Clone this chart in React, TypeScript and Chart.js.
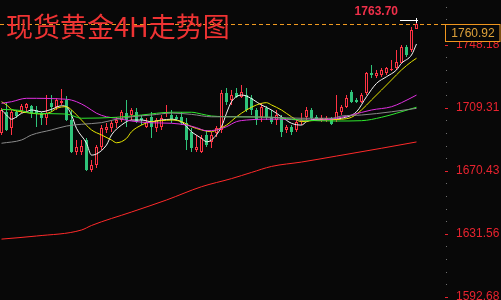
import React, { useEffect, useRef } from "react";
import { Chart, registerables } from "chart.js";

Chart.register(...registerables);

const titleText = "现货黄金4H走势图";
const yTickLabels = ["1592.68", "1631.56", "1670.43", "1709.31", "1748.18"];
const lastPrice = 1760.92;
const highPrice = 1763.7;
const highLabel = "1763.70";
const lastLabel = "1760.92";

const opens = [1693.7,1706.7,1696.8,1706.7,1707.3,1709.1,1710.4,1707.9,1706.0,1703.0,
1712.2,1709.7,1712.2,1714.1,1701.7,1682.0,1682.0,1689.4,1670.9,1674.0,
1685.1,1695.6,1696.8,1699.9,1701.7,1706.0,1704.8,1706.7,1703.0,1697.4,
1703.6,1696.8,1697.4,1706.0,1704.8,1703.6,1703.6,1699.9,1694.3,1683.2,
1682.0,1692.5,1688.2,1693.7,1695.6,1718.4,1714.1,1718.4,1715.9,1717.1,
1715.3,1707.9,1703.6,1709.1,1703.0,1701.7,1703.6,1695.6,1697.4,1695.6,
1700.5,1703.6,1707.9,1703.6,1701.7,1701.7,1703.0,1701.7,1706.7,1709.7,
1719.0,1714.1,1712.8,1718.4,1730.7,1728.9,1729.5,1730.7,1732.6,1733.8,
1736.9,1746.7,1744.9,1757.8];

const highs = [1709.1,1712.8,1707.9,1707.9,1711.6,1712.2,1711.0,1710.4,1706.7,1717.1,
1717.1,1715.3,1720.8,1716.5,1707.9,1689.4,1689.4,1690.6,1677.1,1686.3,
1698.6,1699.9,1701.1,1703.6,1707.9,1714.1,1709.1,1709.1,1704.8,1703.0,
1706.7,1703.0,1704.8,1711.0,1707.9,1704.8,1706.7,1703.0,1696.8,1692.5,
1692.5,1695.6,1694.3,1698.0,1720.2,1721.5,1720.2,1721.5,1723.3,1721.5,
1717.1,1709.1,1712.2,1710.4,1707.9,1707.9,1704.8,1698.6,1698.6,1701.7,
1706.0,1709.7,1709.1,1704.8,1704.8,1704.2,1703.6,1717.1,1711.0,1717.1,
1720.2,1715.3,1718.4,1731.3,1735.6,1732.6,1733.8,1734.4,1738.7,1744.9,
1748.0,1748.0,1759.1,1763.7];

const lows = [1692.5,1694.9,1692.5,1703.0,1706.0,1706.7,1703.0,1697.4,1698.6,1698.6,
1706.7,1707.9,1711.0,1701.1,1681.4,1680.2,1680.2,1670.3,1669.7,1672.1,
1683.2,1693.7,1694.3,1696.8,1700.5,1697.4,1701.7,1699.9,1698.6,1696.8,
1690.6,1694.3,1695.6,1703.6,1699.9,1701.1,1698.6,1683.2,1682.0,1682.0,
1681.4,1685.1,1684.5,1691.2,1693.7,1711.0,1711.0,1715.3,1715.3,1706.7,
1704.8,1698.6,1700.5,1701.7,1699.3,1698.6,1691.2,1693.7,1692.5,1694.3,
1698.6,1701.7,1701.7,1701.1,1700.5,1700.5,1698.6,1700.5,1704.8,1709.1,
1712.2,1712.2,1712.2,1717.1,1727.6,1727.6,1728.2,1729.5,1731.9,1732.6,
1736.9,1740.6,1743.6,1757.8];

const closes = [1707.9,1695.6,1706.7,1704.2,1710.4,1711.6,1706.0,1706.0,1703.0,1706.0,
1709.7,1714.1,1713.4,1701.7,1682.0,1685.1,1685.7,1670.9,1674.0,1685.1,
1696.8,1697.4,1699.9,1701.7,1706.7,1701.7,1707.9,1700.5,1701.7,1700.5,
1697.4,1701.7,1703.0,1706.7,1702.3,1702.3,1699.9,1689.4,1684.5,1685.1,
1690.6,1686.3,1692.5,1696.8,1718.4,1712.8,1717.1,1715.9,1719.0,1707.9,
1707.9,1701.7,1709.7,1703.6,1700.5,1704.8,1694.3,1697.4,1694.3,1700.5,
1701.7,1707.9,1703.0,1702.3,1703.0,1703.0,1699.3,1706.7,1709.7,1715.3,
1712.8,1712.8,1717.1,1730.7,1729.5,1730.7,1732.6,1733.8,1733.2,1737.5,
1746.7,1741.8,1757.2,1760.92];

// moving average lines: [candle index, value]
const maWhite = [[0,1707.9],[1,1704.8],[2,1702.2],[3,1703.7],[4,1705.9],[5,1706.8],[6,1707.9],[8,1706.8],[10,1708.3],[12,1710.5],[13,1709.9],[14,1704.8],[15,1696.6],[17,1687.4],[18,1680.1],[19,1680.8],[21,1686.3],[22,1692.5],[24,1698.6],[26,1701.7],[28,1701.7],[30,1700.7],[32,1701.7],[34,1702.2],[36,1700.5],[38,1694.5],[40,1690.4],[41,1688.3],[42,1689.4],[44,1697.6],[45,1705.9],[46,1713.0],[48,1717.1],[49,1716.5],[52,1711.0],[54,1707.9],[56,1703.7],[58,1699.7],[60,1698.6],[61,1700.7],[63,1702.2],[66,1702.2],[68,1702.8],[71,1706.8],[73,1716.1],[75,1724.3],[77,1728.4],[79,1732.6],[80,1736.7],[82,1741.8],[83,1748.6]];
const maYellow = [[0,1713.0],[1,1711.0],[2,1708.3],[4,1706.8],[6,1705.9],[8,1705.4],[10,1706.8],[11,1708.9],[13,1709.9],[14,1707.9],[16,1701.7],[18,1695.6],[20,1692.5],[22,1689.4],[23,1687.7],[25,1690.4],[26,1694.5],[28,1698.6],[30,1700.7],[32,1701.3],[34,1701.7],[36,1700.7],[38,1697.6],[40,1695.6],[42,1694.5],[43,1695.6],[45,1698.6],[47,1703.7],[49,1707.9],[51,1711.0],[53,1712.4],[54,1711.0],[56,1707.9],[58,1703.7],[60,1700.7],[62,1701.3],[64,1701.7],[68,1702.2],[70,1703.4],[72,1707.9],[74,1714.1],[76,1720.2],[78,1726.4],[80,1732.6],[82,1737.7],[83,1739.8]];
const maMagenta = [[0,1712.0],[2,1713.0],[5,1715.1],[13,1714.5],[15,1713.0],[17,1709.9],[19,1705.9],[21,1703.7],[23,1702.8],[26,1701.1],[30,1700.0],[34,1699.7],[37,1698.6],[39,1697.0],[41,1695.1],[43,1695.6],[45,1697.6],[47,1700.7],[49,1701.7],[52,1702.2],[56,1702.3],[60,1701.7],[64,1701.7],[68,1703.4],[70,1704.8],[74,1707.9],[78,1709.9],[80,1712.4],[83,1717.1]];
const maGreen = [[0,1708.3],[4,1707.5],[6,1705.9],[13,1705.4],[16,1702.8],[23,1703.4],[28,1704.8],[34,1706.5],[38,1706.5],[40,1705.4],[42,1704.2],[47,1703.7],[54,1703.4],[60,1701.7],[67,1701.1],[72,1701.3],[76,1703.4],[79,1705.9],[83,1709.6]];
const maGray = [[0,1687.4],[4,1689.4],[6,1692.5],[10,1695.6],[13,1698.0],[16,1699.1],[20,1700.1],[23,1702.2],[26,1703.7],[30,1704.8],[34,1706.0],[38,1705.2],[42,1703.7],[47,1703.7],[54,1703.4],[60,1702.8],[66,1702.8],[68,1704.2],[72,1704.8],[78,1706.8],[83,1708.9]];
const maRed = [[0,1628.3],[7,1630.2],[16,1633.9],[18,1636.7],[26,1645.0],[33,1652.4],[40,1660.6],[46,1665.6],[50,1669.4],[54,1673.1],[60,1675.8],[67,1679.5],[76,1684.3],[83,1688.2]];

const BG = "#080808";
const UP = "#ff3344";
const DOWN = "#2fc47a";
const AXIS_RED = "#e8232f";

export default function App() {
  const ref = useRef<HTMLCanvasElement>(null);

  useEffect(() => {
    document.body.style.margin = "0";
    document.body.style.background = BG;
    const isUp = closes.map((c, i) => c >= opens[i]);
    const tickVals = yTickLabels.map((s) => parseFloat(s));
    const lastIdx = closes.length - 1;

    const line = (pts: number[][], color: string) => ({
      type: "line",
      data: pts.map((p) => ({ x: p[0], y: p[1] })),
      borderColor: color,
      borderWidth: 1,
      pointRadius: 0,
      cubicInterpolationMode: "monotone",
      order: 0,
    });

    const overlay = {
      id: "overlay",
      beforeDatasetsDraw(chart: any) {
        const { ctx, chartArea, scales } = chart;
        const ly = Math.round(scales.y.getPixelForValue(lastPrice)) + 0.5;
        ctx.save();
        ctx.strokeStyle = "#f09a20";
        ctx.lineWidth = 1;
        ctx.setLineDash([4, 3]);
        ctx.beginPath();
        ctx.moveTo(0, ly);
        ctx.lineTo(chartArea.right, ly);
        ctx.stroke();
        ctx.restore();
      },
      afterDraw(chart: any) {
        const { ctx, chartArea, scales } = chart;
        const y = scales.y;
        const x = scales.x;
        const right = chartArea.right;
        ctx.save();
        const step = (tickVals[1] - tickVals[0]) / 5;
        ctx.fillStyle = "#707070";
        for (let k = -5; k <= 30; k++) {
          const v = tickVals[0] + k * step;
          if (k % 5 === 0) continue;
          const py = Math.round(y.getPixelForValue(v));
          if (py < 0 || py > 300) continue;
          ctx.fillRect(right + 1, py, 1, 1);
        }
        ctx.fillStyle = AXIS_RED;
        tickVals.forEach((v) => {
          const py = Math.round(y.getPixelForValue(v));
          ctx.fillRect(right, py, 3, 1);
        });
        const ly = Math.round(y.getPixelForValue(lastPrice));
        ctx.fillStyle = BG;
        ctx.fillRect(right, ly, 501 - right, 18);
        ctx.strokeStyle = "#f0961e";
        ctx.lineWidth = 1;
        ctx.strokeRect(right + 0.5, ly + 0.5, 501 - right - 1.5, 17);
        ctx.fillStyle = "#e0a23a";
        ctx.font = "12px 'Liberation Sans', Arial, sans-serif";
        ctx.textAlign = "center";
        ctx.textBaseline = "middle";
        ctx.fillText(lastLabel, right + (501 - right) / 2, ly + 9.5);
        const hx = Math.round(x.getPixelForValue(lastIdx) - 0.5);
        const hy = Math.round(y.getPixelForValue(highPrice));
        ctx.fillStyle = "#ffffff";
        ctx.fillRect(hx - 16, hy + 1, 18, 1);
        ctx.fillRect(hx, hy - 1, 1, 5);
        ctx.fillStyle = "#f0304a";
        ctx.font = "bold 12px 'Liberation Sans', Arial, sans-serif";
        ctx.textAlign = "right";
        ctx.textBaseline = "middle";
        ctx.fillText(highLabel, hx - 18, hy - 7);
        ctx.restore();
      },
    };

    const chart = new Chart(ref.current as HTMLCanvasElement, {
      type: "bar",
      data: {
        datasets: [
          {
            type: "bar",
            data: lows.map((l, i) => ({ x: i, y: [l, highs[i]] })),
            backgroundColor: isUp.map((u) => (u ? UP : DOWN)),
            borderWidth: 0,
            barThickness: 1,
            grouped: false,
            inflateAmount: 0,
            order: 2,
          },
          {
            type: "bar",
            data: opens.map((o, i) => ({ x: i, y: [o, closes[i]] })),
            backgroundColor: isUp.map((u) => (u ? BG : DOWN)),
            borderColor: isUp.map((u) => (u ? UP : DOWN)),
            borderWidth: 1,
            borderSkipped: false,
            barThickness: 3,
            grouped: false,
            inflateAmount: 0,
            order: 1,
          },
          line(maRed, "#ff2a2a"),
          line(maGray, "#8a8a8a"),
          line(maGreen, "#2ee82e"),
          line(maMagenta, "#e030e0"),
          line(maYellow, "#e6e600"),
          line(maWhite, "#f4f4f4"),
        ] as any,
      },
      options: {
        responsive: false,
        devicePixelRatio: 1,
        animation: false,
        events: [],
        layout: { padding: 0 },
        plugins: { legend: { display: false }, tooltip: { enabled: false } },
        scales: {
          x: {
            type: "linear",
            min: -0.3,
            max: 88.7,
            offset: false,
            display: false,
          },
          y: {
            position: "right",
            min: 1590.75,
            max: 1775.71,
            afterFit: (s: any) => {
              s.width = 56;
              s.paddingTop = 0;
              s.paddingBottom = 0;
            },
            afterBuildTicks: (s: any) => {
              s.ticks = tickVals.map((v) => ({ value: v }));
            },
            grid: { display: false },
            border: { display: false },
            ticks: {
              autoSkip: false,
              padding: 3,
              color: AXIS_RED,
              font: { family: "'Liberation Sans', Arial, sans-serif", size: 12 },
              callback: (_v: any, i: number) => yTickLabels[i],
            },
          },
        },
      } as any,
      plugins: [overlay],
    });
    return () => chart.destroy();
  }, []);

  return (
    <div style={{ position: "relative", width: 501, height: 300, background: BG, overflow: "hidden" }}>
      <canvas ref={ref} width={501} height={300} style={{ display: "block", width: 501, height: 300 }} />
      <div
        style={{
          position: "absolute",
          left: 6,
          top: 12,
          fontFamily: "'Noto Sans CJK SC', sans-serif",
          fontSize: 27,
          lineHeight: "27px",
          color: "#ee3333",
          whiteSpace: "nowrap",
        }}
      >
        {titleText}
      </div>
    </div>
  );
}
